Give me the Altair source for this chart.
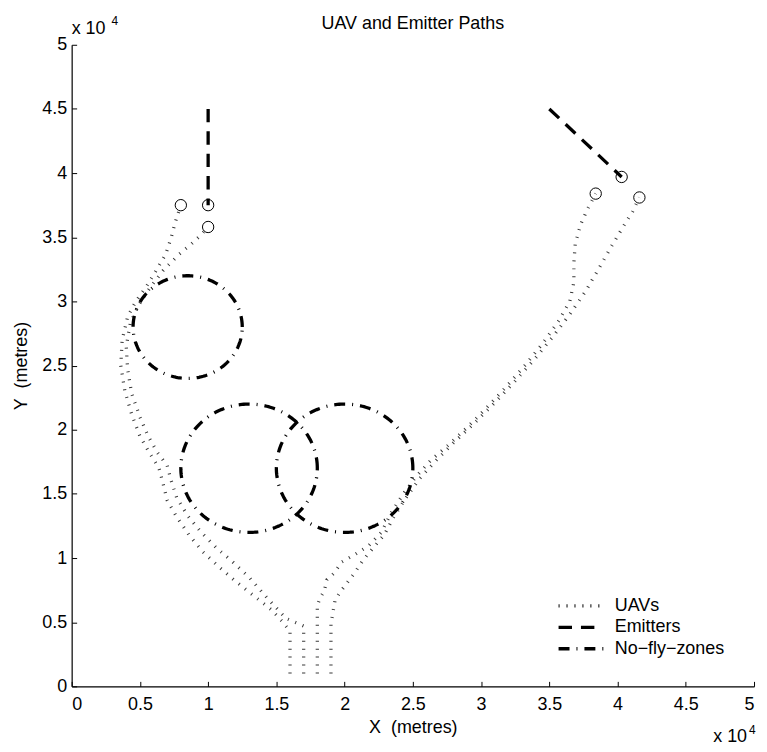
import numpy as np
import pandas as pd
import altair as alt

# ---------------- data (units of 1e4 metres) ----------------
uav1_x = [1.6, 1.6, 1.54, 1.46, 1.33, 1.2, 1.08, 0.96, 0.86, 0.77, 0.7, 0.67, 0.64, 0.57, 0.5, 0.44,
          0.39, 0.36, 0.37, 0.41, 0.47, 0.55, 0.63, 0.69, 0.73, 0.76, 0.8]
uav1_y = [0.1, 0.43, 0.51, 0.60, 0.71, 0.82, 0.93, 1.05, 1.18, 1.32, 1.45, 1.58, 1.7, 1.82, 1.95, 2.12,
          2.3, 2.5, 2.7, 2.88, 3.0, 3.12, 3.26, 3.37, 3.5, 3.62, 3.75]

uav2_x = [1.7, 1.7, 1.57, 1.44, 1.30, 1.18, 1.06, 0.95, 0.85, 0.77, 0.73, 0.70, 0.63, 0.56, 0.5, 0.44,
          0.41, 0.40, 0.43, 0.49, 0.57, 0.67, 0.79, 0.88, 0.94, 1.0]
uav2_y = [0.1, 0.47, 0.53, 0.68, 0.85, 0.97, 1.08, 1.2, 1.33, 1.47, 1.6, 1.72, 1.82, 1.95, 2.1, 2.28,
          2.47, 2.65, 2.83, 2.97, 3.1, 3.24, 3.37, 3.45, 3.51, 3.58]

uav3_x = [1.8, 1.8, 1.82, 1.85, 1.87, 1.92, 1.98, 2.08, 2.18, 2.27, 2.34, 2.43, 2.52, 2.63, 2.76, 2.9,
          3.04, 3.18, 3.32, 3.45, 3.57, 3.65, 3.68, 3.68, 3.69, 3.73, 3.78, 3.84]
uav3_y = [0.1, 0.63, 0.69, 0.74, 0.83, 0.88, 0.97, 1.03, 1.1, 1.2, 1.35, 1.5, 1.63, 1.76, 1.88, 2.02,
          2.17, 2.33, 2.5, 2.67, 2.85, 3.0, 3.15, 3.3, 3.45, 3.6, 3.72, 3.84]

uav4_x = [1.9, 1.9, 1.93, 1.97, 2.0, 2.07, 2.14, 2.21, 2.29, 2.36, 2.45, 2.55, 2.67, 2.8, 2.95, 3.1,
          3.25, 3.4, 3.53, 3.65, 3.76, 3.86, 3.95, 4.04, 4.11, 4.16]
uav4_y = [0.1, 0.49, 0.67, 0.74, 0.78, 0.88, 0.99, 1.08, 1.18, 1.32, 1.47, 1.62, 1.76, 1.9, 2.05, 2.21,
          2.38, 2.56, 2.73, 2.9, 3.07, 3.25, 3.42, 3.58, 3.7, 3.81]

emit1_x = [1.0, 1.0]
emit1_y = [4.5, 3.75]
emit2_x = [3.5, 4.03]
emit2_y = [4.5, 3.97]

zone_cx = [0.85, 1.3, 2.0]
zone_cy = [2.8, 1.7, 1.7]
zone_r = [0.4, 0.5, 0.5]

marker_x = [0.8, 1.0, 1.0, 3.84, 4.03, 4.16]
marker_y = [3.75, 3.75, 3.58, 3.84, 3.97, 3.81]

kinds = ["UAVs", "Emitters", "No\u2212fly\u2212zones"]
ticks = [0, 0.5, 1, 1.5, 2, 2.5, 3, 3.5, 4, 4.5, 5]

# ---------------- build tables ----------------
rows = []


def add(path, kind, xs, ys):
    for i, (x, y) in enumerate(zip(xs, ys)):
        rows.append({"x": x, "y": y, "path": path, "kind": kind, "order": i})


add("u1", kinds[0], uav1_x, uav1_y)
add("u2", kinds[0], uav2_x, uav2_y)
add("u3", kinds[0], uav3_x, uav3_y)
add("u4", kinds[0], uav4_x, uav4_y)
add("e1", kinds[1], emit1_x, emit1_y)
add("e2", kinds[1], emit2_x, emit2_y)
theta = np.linspace(0, 2 * np.pi, 241)
for k, (cx, cy, r) in enumerate(zip(zone_cx, zone_cy, zone_r)):
    add(f"z{k}", kinds[2], list(cx + r * np.cos(theta)), list(cy + r * np.sin(theta)))

df = pd.DataFrame(rows)
mk = pd.DataFrame({"x": marker_x, "y": marker_y})

FONT = "Liberation Sans"
W, H = 686, 645

scale_x = alt.Scale(domain=[0, 5], nice=False, zero=False)
scale_y = alt.Scale(domain=[0, 5], nice=False, zero=False)

lines = alt.Chart(df).mark_line(strokeCap="butt", strokeJoin="miter",
                                strokeWidth=3.3).encode(
    x=alt.X("x:Q", scale=scale_x,
            axis=alt.Axis(values=ticks, format="~g", grid=False, ticks=False, tickSize=0,
                          labelPadding=9, domainColor="black", domainWidth=1.2,
                          title="X\u00a0 (metres)", titleX=343, titleY=41,
                          titleBaseline="middle", titleAlign="center")),
    y=alt.Y("y:Q", scale=scale_y,
            axis=alt.Axis(values=ticks, format="~g", grid=False, ticks=False, tickSize=0,
                          labelPadding=5, domainColor="black", domainWidth=1.2,
                          title="Y\u00a0 (metres)", titleX=-50, titleY=322.5, titleAngle=270,
                          titleBaseline="middle", titleAlign="center")),
    detail="path:N",
    order="order:Q",
    stroke=alt.condition("datum.kind === 'UAVs'", alt.value("#383838"), alt.value("black")),
    strokeDash=alt.StrokeDash(
        "kind:N",
        scale=alt.Scale(domain=kinds, range=[[1, 7], [13.5, 9], [11, 7, 1, 7]]),
        legend=alt.Legend(title=None, orient="none", legendX=503, legendY=555,
                          symbolType="M-5,0H5", symbolSize=81, symbolStrokeColor="black",
                          symbolStrokeWidth=3.3, symbolFillColor="transparent",
                          labelFontSize=18, labelFont=FONT, labelColor="black",
                          labelOffset=25, rowPadding=3.6, padding=0),
    ),
)

markers = alt.Chart(mk).mark_point(shape="circle", filled=False, size=130, color="black",
                                   strokeWidth=1, opacity=1).encode(
    x=alt.X("x:Q", scale=scale_x,
            axis=alt.Axis(values=ticks, orient="bottom", offset=-5, domain=False, labels=False,
                          ticks=True, tickSize=5, tickColor="black", tickWidth=1, grid=False,
                          title=None)),
    y=alt.Y("y:Q", scale=scale_y,
            axis=alt.Axis(values=ticks, orient="left", offset=-5, domain=False, labels=False,
                          ticks=True, tickSize=5, tickColor="black", tickWidth=1, grid=False,
                          title=None)),
)


def txt(s, x, y, size=18, align="left"):
    return alt.Chart(pd.DataFrame({"t": [s]})).mark_text(
        font=FONT, fontSize=size, align=align, baseline="middle", color="black"
    ).encode(text="t:N", x=alt.value(x), y=alt.value(y))


title = txt("UAV and Emitter Paths", 343, -21, align="center")
e_tl = txt("x 10", 0, -16)
e_tl4 = txt("4", 40, -24, size=12)
e_br = txt("x 10", 679, 696, align="right")
e_br4 = txt("4", 681, 689, size=12)

chart = alt.layer(lines, markers, title, e_tl, e_tl4, e_br, e_br4).resolve_axis(
    x="independent", y="independent"
).properties(
    width=W, height=H,
    autosize=alt.AutoSizeParams(type="none"),
    padding={"left": 64, "top": 35, "right": 5, "bottom": 60},
).configure_axis(
    labelFont=FONT, labelFontSize=18, labelColor="black",
    titleFont=FONT, titleFontSize=18, titleColor="black", titleFontWeight="normal",
).configure_view(stroke=None)

chart.save("out.html", embed_options={"renderer": "svg", "actions": False})
